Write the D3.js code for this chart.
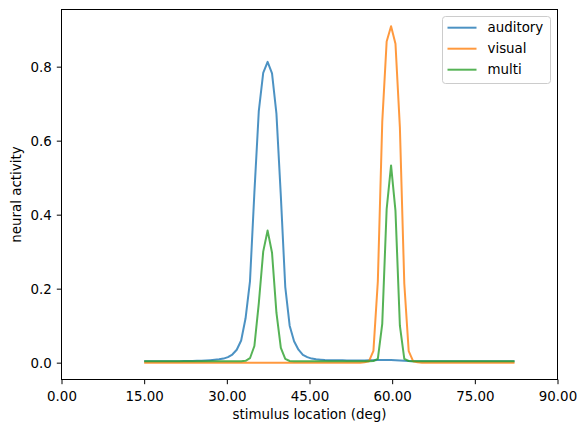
<!DOCTYPE html>
<html>
  <head>
    <meta charset="utf-8">
    <style>
      body { margin: 0; background: #fff; }
      svg { display: block; }
      text { font-family: 'DejaVu Sans', sans-serif; font-size: 13.4px; fill: #000; }
    </style>
  </head>
  <body>
    <div class="chart"></div>
    <script src="https://d3js.org/d3.v7.min.js"></script>
    <script type="text/javascript">
      // stimulus locations (deg)
      var locations = [15.0, 15.8, 16.6, 17.4, 18.2, 19.0, 19.8, 20.6, 21.4, 22.2,
        23.0, 23.8, 24.6, 25.4, 26.2, 27.0, 27.8, 28.6, 29.4, 30.2,
        31.0, 31.8, 32.6, 33.4, 34.2, 35.0, 35.8, 36.6, 37.4, 38.2,
        39.0, 39.8, 40.6, 41.4, 42.2, 43.0, 43.8, 44.6, 45.4, 46.2,
        47.0, 47.8, 48.6, 49.4, 50.2, 51.0, 51.8, 52.6, 53.4, 54.2,
        55.0, 55.8, 56.6, 57.4, 58.2, 59.0, 59.8, 60.6, 61.4, 62.2,
        63.0, 63.8, 64.6, 65.4, 66.2, 67.0, 67.8, 68.6, 69.4, 70.2,
        71.0, 71.8, 72.6, 73.4, 74.2, 75.0, 75.8, 76.6, 77.4, 78.2,
        79.0, 79.8, 80.6, 81.4, 82.2];

      var auditory = [0.0035, 0.0035, 0.0036, 0.0036, 0.0037, 0.0038, 0.0039, 0.0040, 0.0041, 0.0043,
        0.0045, 0.0047, 0.0050, 0.0054, 0.0060, 0.0068, 0.0078, 0.0090, 0.011, 0.015,
        0.022, 0.035, 0.060, 0.12, 0.22, 0.46, 0.68, 0.783, 0.813, 0.782,
        0.673, 0.45, 0.205, 0.10, 0.058, 0.035, 0.021, 0.015, 0.011, 0.009,
        0.008, 0.0072, 0.0068, 0.0065, 0.0063, 0.0062, 0.0060, 0.0060, 0.0060, 0.0060,
        0.0060, 0.0062, 0.0065, 0.0070, 0.0072, 0.0072, 0.0070, 0.0065, 0.0060, 0.0050,
        0.0045, 0.0040, 0.0038, 0.0038, 0.0037, 0.0037, 0.0037, 0.0036, 0.0036, 0.0036,
        0.0036, 0.0036, 0.0035, 0.0035, 0.0035, 0.0035, 0.0035, 0.0035, 0.0035, 0.0035,
        0.0035, 0.0035, 0.0035, 0.0035, 0.0035];

      var visual = [0, 0, 0, 0, 0, 0, 0, 0, 0, 0,
        0, 0, 0, 0, 0, 0, 0, 0, 0, 0,
        0, 0, 0, 0, 0, 0, 0, 0, 0, 0,
        0, 0, 0, 0, 0, 0, 0, 0, 0, 0,
        0, 0, 0, 0, 0, 0, 0, 0, 0, 0,
        0.001, 0.004, 0.032, 0.22, 0.65, 0.868, 0.909, 0.862, 0.636, 0.214,
        0.031, 0.004, 0.001, 0, 0, 0, 0, 0, 0, 0,
        0, 0, 0, 0, 0, 0, 0, 0, 0, 0,
        0, 0, 0, 0, 0];

      var multi = [0.0035, 0.0035, 0.0035, 0.0035, 0.0035, 0.0035, 0.0035, 0.0035, 0.0035, 0.0035,
        0.0035, 0.0035, 0.0035, 0.0035, 0.0035, 0.0035, 0.0035, 0.0035, 0.0035, 0.0035,
        0.0035, 0.0035, 0.0037, 0.0050, 0.012, 0.045, 0.16, 0.30, 0.357, 0.297,
        0.135, 0.040, 0.010, 0.0045, 0.0037, 0.0035, 0.0035, 0.0035, 0.0035, 0.0035,
        0.0035, 0.0035, 0.0035, 0.0035, 0.0035, 0.0035, 0.0035, 0.0035, 0.0035, 0.0035,
        0.0035, 0.0036, 0.0045, 0.010, 0.105, 0.415, 0.533, 0.41, 0.10, 0.010,
        0.0045, 0.0036, 0.0035, 0.0035, 0.0035, 0.0035, 0.0035, 0.0035, 0.0035, 0.0035,
        0.0035, 0.0035, 0.0035, 0.0035, 0.0035, 0.0035, 0.0035, 0.0035, 0.0035, 0.0035,
        0.0035, 0.0035, 0.0035, 0.0035, 0.0035];

      var seriesNames = ['auditory', 'visual', 'multi'];
      var seriesColors = ['#1f77b4', '#ff7f0e', '#2ca02c'];
      var xTicks = [0, 15, 30, 45, 60, 75, 90];
      var yTicks = [0, 0.2, 0.4, 0.6, 0.8];

      var series = [auditory, visual, multi].map(function(vals, k) {
        return {
          name: seriesNames[k],
          color: seriesColors[k],
          points: vals.map(function(v, i) { return [locations[i], v]; })
        };
      });

      //plot box, in pixels
      var W = 587, H = 432;
      var box = {left: 61.5, right: 557.5, top: 9.5, bottom: 379.5};

      var svg = d3.select('.chart').append('svg')
        .attr('width', W)
        .attr('height', H);

      svg.append('rect').attr('width', W).attr('height', H).attr('fill', '#fff');

      var x = d3.scaleLinear().domain([0, 90]).range([box.left, box.right]);
      var y = d3.scaleLinear().domain([-0.0455, 0.9545]).range([box.bottom, box.top]);

      var line = d3.line()
        .x(function(d) { return x(d[0]); })
        .y(function(d) { return y(d[1]); });

      svg.append('g')
        .selectAll('path')
        .data(series).enter()
        .append('path')
        .attr('d', function(d) { return line(d.points); })
        .attr('fill', 'none')
        .attr('stroke', function(d) { return d.color; })
        .attr('stroke-opacity', 0.8)
        .attr('stroke-width', 2)
        .attr('stroke-linejoin', 'round');

      //axes
      var xAxis = d3.axisBottom(x)
        .tickValues(xTicks)
        .tickFormat(d3.format('.2f'))
        .tickSize(4.7)
        .tickSizeOuter(0);
      var gX = svg.append('g')
        .attr('transform', 'translate(0,' + box.bottom + ')')
        .call(xAxis);
      gX.select('.domain').remove();
      gX.selectAll('line').attr('stroke', '#000').attr('stroke-width', 1);
      gX.selectAll('text')
        .attr('y', 21.5)
        .attr('dy', 0)
        .attr('font-family', null)
        .attr('font-size', null);

      var yAxis = d3.axisLeft(y)
        .tickValues(yTicks)
        .tickFormat(d3.format('.1f'))
        .tickSize(4.7)
        .tickSizeOuter(0);
      var gY = svg.append('g')
        .attr('transform', 'translate(' + box.left + ',0)')
        .call(yAxis);
      gY.select('.domain').remove();
      gY.selectAll('line').attr('stroke', '#000').attr('stroke-width', 1);
      gY.selectAll('text')
        .attr('x', -9.7)
        .attr('dy', '0.36em')
        .attr('font-family', null)
        .attr('font-size', null);

      // frame
      svg.append('rect')
        .attr('x', box.left).attr('y', box.top)
        .attr('width', box.right - box.left).attr('height', box.bottom - box.top)
        .attr('fill', 'none')
        .attr('stroke', '#000')
        .attr('stroke-width', 1);

      svg.append('text')
        .attr('x', (box.left + box.right) / 2)
        .attr('y', 419)
        .attr('text-anchor', 'middle')
        .text('stimulus location (deg)');

      svg.append('text')
        .attr('transform', 'translate(21,' + ((box.top + box.bottom) / 2) + ') rotate(-90)')
        .attr('text-anchor', 'middle')
        .text('neural activity');

      //legend
      var legend = svg.append('g');
      legend.append('rect')
        .attr('x', 442.5).attr('y', 16.5)
        .attr('width', 108).attr('height', 67)
        .attr('rx', 3)
        .attr('fill', '#fff')
        .attr('fill-opacity', 0.8)
        .attr('stroke', '#cccccc')
        .attr('stroke-width', 1);

      var items = legend.selectAll('g.item')
        .data(series).enter()
        .append('g')
        .attr('class', 'item')
        .attr('transform', function(d, i) { return 'translate(0,' + (27.7 + i * 21) + ')'; });
      items.append('line')
        .attr('x1', 447.5).attr('x2', 476.5)
        .attr('stroke', function(d) { return d.color; })
        .attr('stroke-opacity', 0.8)
        .attr('stroke-width', 2);
      items.append('text')
        .attr('x', 487.5)
        .attr('y', 4.7)
        .text(function(d) { return d.name; });
    </script>
  </body>
</html>
